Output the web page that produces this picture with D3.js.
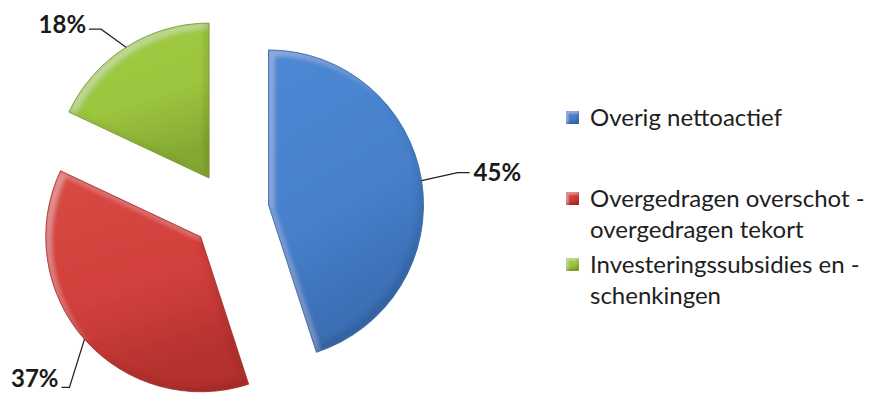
<!DOCTYPE html>
<html>
<head>
<meta charset="utf-8">
<script src="https://cdn.jsdelivr.net/npm/d3@7"></script>
<style>
  html, body { margin: 0; padding: 0; background: #fff; }
  svg { display: block; }
</style>
</head>
<body>
<svg id="chart" width="874" height="394"></svg>
<script>
// Composition of the net assets
const categories = ["Overig nettoactief", "Overgedragen overschot - overgedragen tekort", "Investeringssubsidies en - schenkingen"];
const values = [45, 37, 18];
const percentLabels = ["45%", "37%", "18%"];
const legendLines = [["Overig nettoactief"], ["Overgedragen overschot -", "overgedragen tekort"], ["Investeringssubsidies en -", "schenkingen"]];
const baseColors = ["#4680cb", "#d2403c", "#9cc53f"];
const lightColors = ["#4d88d4", "#d84a45", "#a3cc46"];
const darkColors = ["#3a6cb0", "#b3312e", "#84a932"];
const edgeColors = ["#30609f", "#9e2a27", "#71922a"];

const svg = d3.select("#chart");
const cx = 230, cy = 211, radius = 155, explode = 39;

const defs = svg.append("defs");
categories.forEach((c, i) => {
  const g = defs.append("linearGradient")
    .attr("id", "grad" + i)
    .attr("x1", "0").attr("y1", "0").attr("x2", "0.3").attr("y2", "1");
  g.append("stop").attr("offset", "0%").attr("stop-color", lightColors[i]);
  g.append("stop").attr("offset", "60%").attr("stop-color", baseColors[i]);
  g.append("stop").attr("offset", "100%").attr("stop-color", darkColors[i]);
});

// bevel: light band along the upper-left edges, shade along the lower-right edges
function addBevel(id, d, blur, hiOpacity, shOpacity) {
  const f = defs.append("filter").attr("id", id)
    .attr("x", "-5%").attr("y", "-5%").attr("width", "110%").attr("height", "110%");
  f.append("feOffset").attr("in", "SourceAlpha").attr("dx", d).attr("dy", d).attr("result", "offA");
  f.append("feComposite").attr("in", "SourceAlpha").attr("in2", "offA").attr("operator", "out").attr("result", "topEdge");
  f.append("feGaussianBlur").attr("in", "topEdge").attr("stdDeviation", blur).attr("result", "topBlur");
  f.append("feComposite").attr("in", "topBlur").attr("in2", "SourceAlpha").attr("operator", "in").attr("result", "topIn");
  f.append("feFlood").attr("flood-color", "#ffffff").attr("flood-opacity", hiOpacity).attr("result", "white");
  f.append("feComposite").attr("in", "white").attr("in2", "topIn").attr("operator", "in").attr("result", "hl");
  f.append("feOffset").attr("in", "SourceAlpha").attr("dx", -d).attr("dy", -d).attr("result", "offB");
  f.append("feComposite").attr("in", "SourceAlpha").attr("in2", "offB").attr("operator", "out").attr("result", "botEdge");
  f.append("feGaussianBlur").attr("in", "botEdge").attr("stdDeviation", blur).attr("result", "botBlur");
  f.append("feComposite").attr("in", "botBlur").attr("in2", "SourceAlpha").attr("operator", "in").attr("result", "botIn");
  f.append("feFlood").attr("flood-color", "#000000").attr("flood-opacity", shOpacity).attr("result", "black");
  f.append("feComposite").attr("in", "black").attr("in2", "botIn").attr("operator", "in").attr("result", "sh");
  const m = f.append("feMerge");
  m.append("feMergeNode").attr("in", "SourceGraphic");
  m.append("feMergeNode").attr("in", "hl");
  m.append("feMergeNode").attr("in", "sh");
}
addBevel("bevel", 5, 2.5, 0.28, 0.22);
addBevel("bevelSmall", 2, 1, 0.35, 0.25);

const pie = d3.pie().sort(null).value(d => d).startAngle(0).endAngle(2 * Math.PI);
const arcs = pie(values);
const arcGen = d3.arc().innerRadius(0).outerRadius(radius);

const g = svg.append("g").attr("transform", `translate(${cx},${cy})`);

const slice = g.selectAll("g.slice").data(arcs).enter().append("g")
  .attr("class", "slice")
  .attr("transform", d => {
    const mid = (d.startAngle + d.endAngle) / 2;
    return `translate(${explode * Math.sin(mid)},${-explode * Math.cos(mid)})`;
  });

slice.append("path")
  .attr("d", arcGen)
  .attr("fill", (d, i) => `url(#grad${i})`)
  .attr("filter", "url(#bevel)");
slice.append("path")
  .attr("d", arcGen)
  .attr("fill", "none")
  .attr("stroke", (d, i) => edgeColors[i])
  .attr("stroke-width", 1)
  .attr("stroke-opacity", 0.8)
  .attr("stroke-linejoin", "round");

// percentage labels with leader lines
const labelLayout = [
  { pts: [[36, -8], [48, -8]], text: [52, 0], anchor: "start" },
  { pts: [[-15, 48], [-23, 48]], text: [-26, 48], anchor: "end" },
  { pts: [[-25, -18], [-37, -18]], text: [-40, -14], anchor: "end" }
];
slice.each(function(d, i) {
  const mid = (d.startAngle + d.endAngle) / 2;
  const px = radius * Math.sin(mid), py = -radius * Math.cos(mid);
  const L = labelLayout[i];
  const sel = d3.select(this);
  sel.append("polyline")
    .attr("points", [[px, py]].concat(L.pts.map(p => [px + p[0], py + p[1]])).map(p => p.join(",")).join(" "))
    .attr("fill", "none").attr("stroke", "#222").attr("stroke-width", 1.2);
  sel.append("text")
    .attr("x", px + L.text[0])
    .attr("y", py + L.text[1])
    .attr("text-anchor", L.anchor)
    .attr("font-family", "Lato, 'Open Sans', sans-serif")
    .attr("font-weight", "bold")
    .attr("font-size", 24)
    .attr("fill", "#1a1a1a")
    .text(percentLabels[i]);
});

// legend
const legendY = [126, 207, 273];
const legend = svg.append("g").attr("transform", "translate(566,0)");
legendLines.forEach((lines, i) => {
  const item = legend.append("g").attr("transform", `translate(0,${legendY[i]})`);
  item.append("rect")
    .attr("x", 0).attr("y", -15).attr("width", 13).attr("height", 13)
    .attr("fill", `url(#grad${i})`).attr("filter", "url(#bevelSmall)");
  lines.forEach((t, j) => {
    item.append("text")
      .attr("x", 24).attr("y", j * 31)
      .attr("font-family", "Lato, 'Open Sans', sans-serif")
      .attr("font-size", 24)
      .attr("fill", "#1e1e1e")
      .text(t);
  });
});
</script>
</body>
</html>
